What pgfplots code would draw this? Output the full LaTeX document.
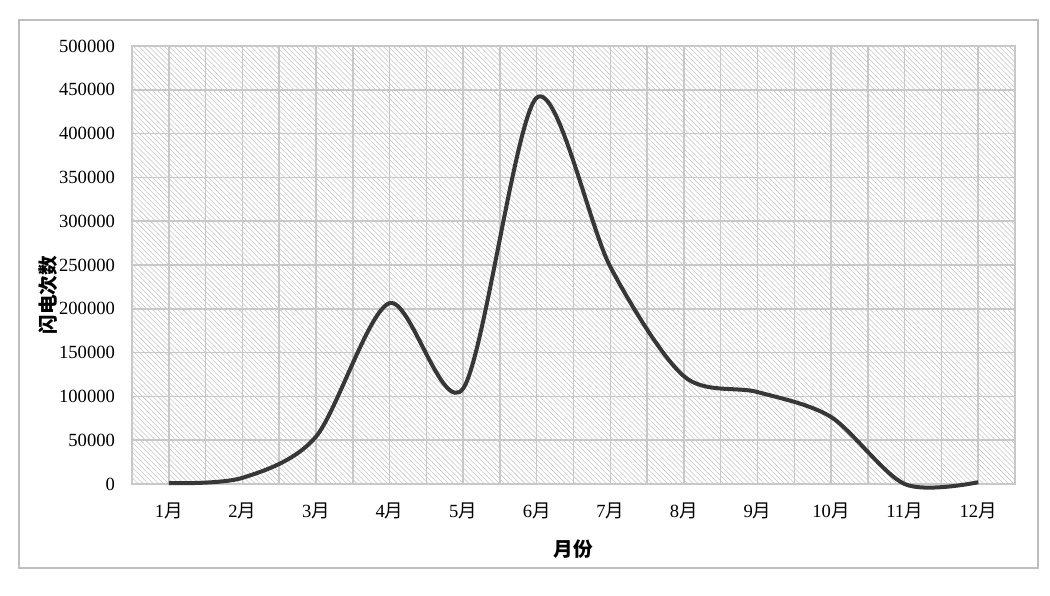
\documentclass[border=0pt]{standalone}
\usepackage{fontspec}
\setmainfont{Liberation Serif}
\newfontfamily\cjk{Noto Sans CJK SC}
\usepackage{pgfplots}
\pgfplotsset{compat=1.18}
\usetikzlibrary{patterns.meta}
\definecolor{gridc}{RGB}{200,200,200}
\definecolor{framec}{RGB}{190,190,190}
\definecolor{linec}{RGB}{55,55,55}
\begin{document}
\begin{tikzpicture}
\path[fill=white] (0,0) rectangle (525pt,297.5pt);
\draw[framec, line width=1pt] (9.5pt,13.5pt) rectangle (519pt,287.5pt);
\begin{axis}[
  at={(66pt,55.5pt)}, anchor=south west,
  scale only axis, width=441.5pt, height=219pt,
  xmin=0.5, xmax=12.5, ymin=0, ymax=500000,
  xtick={1,...,12},
  minor xtick={0.5,1.5,...,12.5},
  xticklabels={1{\cjk 月},2{\cjk 月},3{\cjk 月},4{\cjk 月},5{\cjk 月},6{\cjk 月},7{\cjk 月},8{\cjk 月},9{\cjk 月},10{\cjk 月},11{\cjk 月},12{\cjk 月}},
  ytick={0,50000,...,500000},
  scaled y ticks=false,
  /pgf/number format/fixed,
  /pgf/number format/set thousands separator={},
  /pgf/number format/assume math mode=true,
  tick label style={font=\fontsize{9.3}{11}\selectfont},
  major tick length=0pt, minor tick length=0pt,
  xmajorgrids, xminorgrids, ymajorgrids,
  grid style={gridc, line width=0.75pt},
  minor grid style={gridc, line width=0.75pt},
  axis line style={gridc, line width=0.75pt},
  xticklabel style={yshift=-6pt},
  yticklabel style={xshift=-5pt},
  axis background/.style={pattern={Lines[angle=-45,distance=1.8pt,line width=0.28pt]}, pattern color=gray!45},
  xlabel={月份},
  ylabel={闪电次数},
  label style={font=\fontsize{9.8}{11}\selectfont\cjk\bfseries},
  xlabel style={yshift=-3.5pt},
  ylabel style={yshift=-6pt, xshift=-15pt},
  clip=false,
]
\addplot[linec, line width=2pt, smooth, tension=0.5] coordinates {
(1,1000) (2,7000) (3,54000) (4,206500) (5,109000) (6,441000) (7,248000) (8,123000) (9,105000) (10,76500) (11,0) (12,2000)
};
\end{axis}
\end{tikzpicture}
\end{document}
